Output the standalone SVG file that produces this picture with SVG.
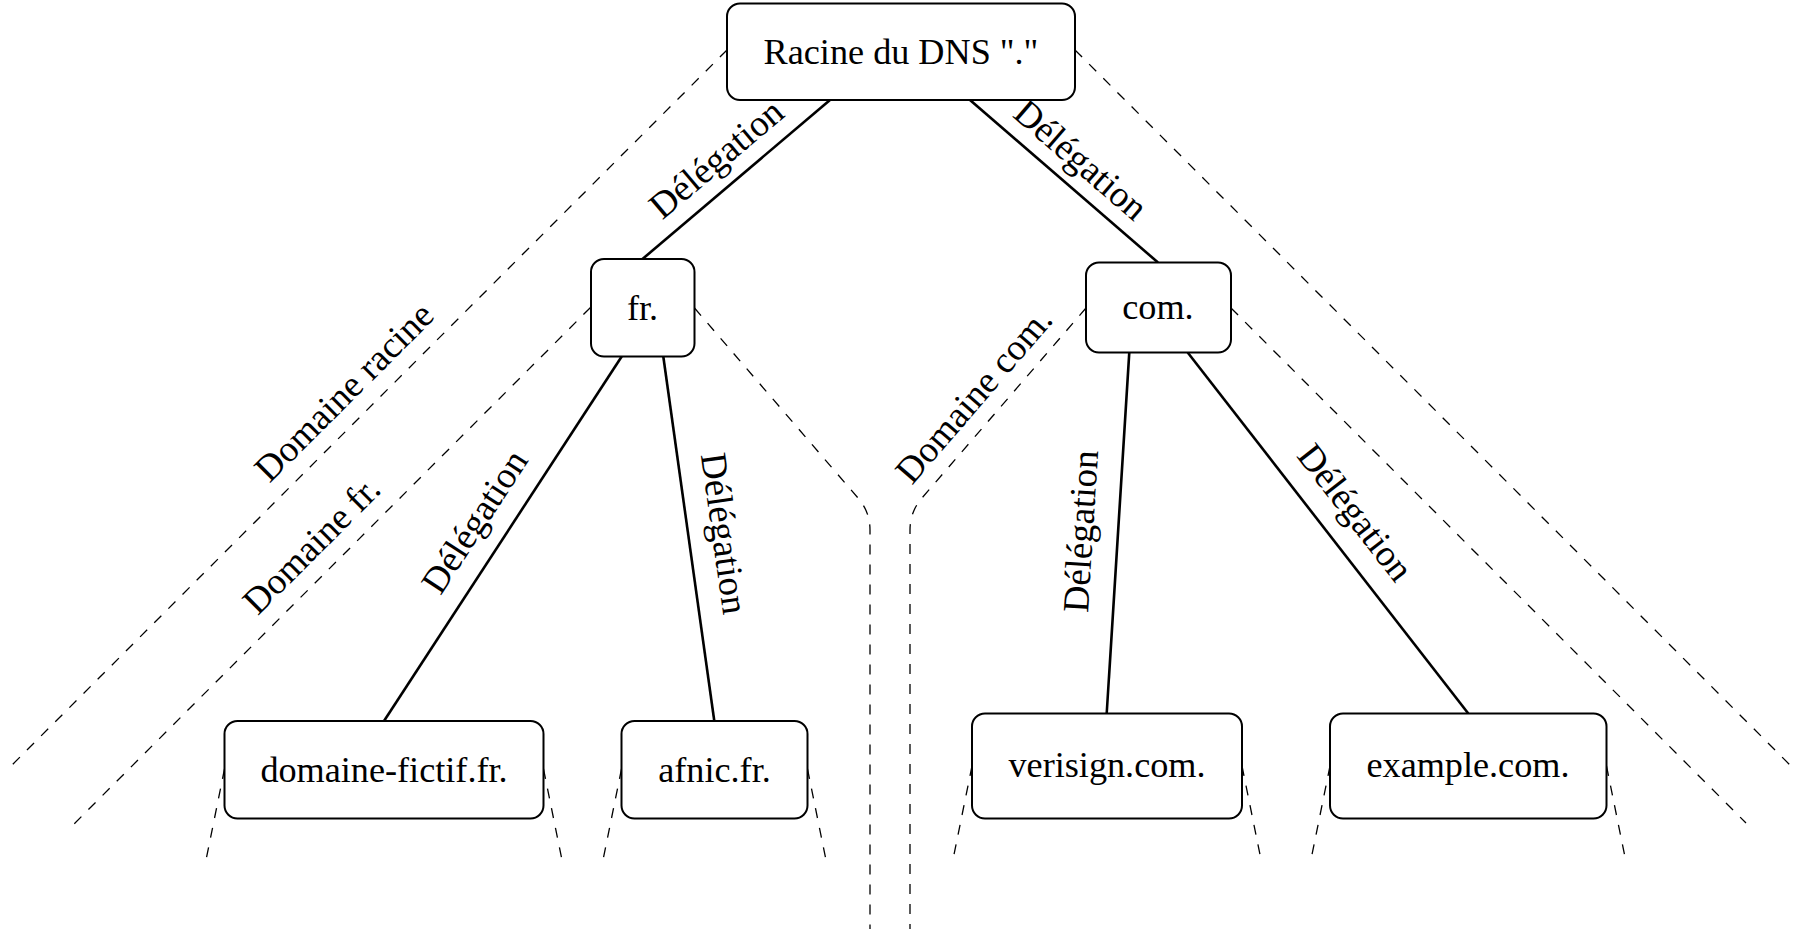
<svg xmlns="http://www.w3.org/2000/svg" width="1800" height="929" viewBox="0 0 1800 929">
<style>
.box{fill:#fff;stroke:#000;stroke-width:2}
.lbl{font-family:"Liberation Serif","Times New Roman",serif;font-size:36.2px;fill:#000;text-anchor:middle}
.elbl{font-family:"Liberation Serif","Times New Roman",serif;font-size:37px;fill:#000;text-anchor:middle}
.edge{stroke:#000;stroke-width:2.6;fill:none}
.dash{stroke:#000;stroke-width:1.3;fill:none;stroke-dasharray:10 10}
</style>
<rect width="1800" height="929" fill="#fff"/>
<g id="connectors">
<path class="dash" d="M727,50 L10,767"/>
<path class="dash" d="M590.5,307.5 L74,824"/>
<path class="dash" d="M694.5,308 L858.3,498.3 Q870,512 870,530 L870,929"/>
<path class="dash" d="M1086,308 L921.7,498.3 Q910,512 910,530 L910,929"/>
<path class="dash" d="M1231,308 L1746,823"/>
<path class="dash" d="M1075,50 L1791,766"/>
<path class="dash" d="M224.5,769 L205,865 M543.5,769 L563,865"/>
<path class="dash" d="M621.5,769 L602,865 M807.5,769 L827,865"/>
<path class="dash" d="M972,766 L952.5,862 M1242,766 L1261.5,862"/>
<path class="dash" d="M1330,766 L1310.5,862 M1606.5,766 L1626,862"/>
<line class="edge" x1="830" y1="100" x2="642.5" y2="259"/>
<line class="edge" x1="970" y1="100" x2="1158" y2="262.5"/>
<line class="edge" x1="621.7" y1="356.5" x2="384" y2="721"/>
<line class="edge" x1="663.3" y1="356.5" x2="714.3" y2="721"/>
<line class="edge" x1="1129.3" y1="352.5" x2="1106.7" y2="713.5"/>
<line class="edge" x1="1187.7" y1="352.5" x2="1468.3" y2="713.5"/>
<text class="elbl" transform="translate(719,162) rotate(-40.2)" y="8">Délégation</text>
<text class="elbl" transform="translate(1078,163) rotate(40.9)" y="8">Délégation</text>
<text class="elbl" transform="translate(478,524) rotate(-56.9)" y="8">Délégation</text>
<text class="elbl" transform="translate(720,534) rotate(82)" y="8">Délégation</text>
<text class="elbl" transform="translate(1085,531.5) rotate(-86.4)" y="8">Délégation</text>
<text class="elbl" transform="translate(1352,515) rotate(52.1)" y="8">Délégation</text>
<text class="elbl" transform="translate(347,395) rotate(-45)" y="8">Domaine racine</text>
<text class="elbl" transform="translate(314.5,548) rotate(-45)" y="8">Domaine fr.</text>
<text class="elbl" transform="translate(977,398) rotate(-49.2)" y="8">Domaine com.</text>
</g>
<g id="root">
<rect class="box" x="727" y="3.5" width="348" height="96.5" rx="13"/>
<text class="lbl" x="901" y="63.5">Racine du DNS "."</text>
</g>
<g id="fr">
<rect class="box" x="591" y="259" width="103.5" height="97.5" rx="13"/>
<text class="lbl" x="642.5" y="320">fr.</text>
</g>
<g id="com">
<rect class="box" x="1086" y="262.5" width="145" height="90" rx="13"/>
<text class="lbl" x="1158" y="318.5">com.</text>
</g>
<g id="domaine-fictif">
<rect class="box" x="224.5" y="721" width="319" height="97.5" rx="13"/>
<text class="lbl" x="384" y="782">domaine-fictif.fr.</text>
</g>
<g id="afnic">
<rect class="box" x="621.5" y="721" width="186" height="97.5" rx="13"/>
<text class="lbl" x="714.5" y="782">afnic.fr.</text>
</g>
<g id="verisign">
<rect class="box" x="972" y="713.5" width="270" height="105" rx="13"/>
<text class="lbl" x="1107" y="776.5">verisign.com.</text>
</g>
<g id="example">
<rect class="box" x="1330" y="713.5" width="276.5" height="105" rx="13"/>
<text class="lbl" x="1468" y="776.5">example.com.</text>
</g>
</svg>
